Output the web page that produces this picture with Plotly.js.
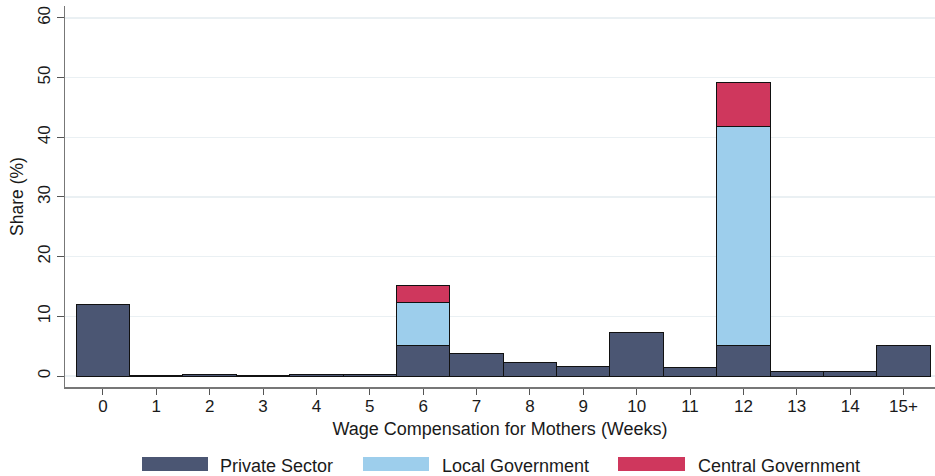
<!DOCTYPE html>
<html>
<head>
<meta charset="utf-8">
<script src="https://cdn.plot.ly/plotly-3.0.1.min.js"></script>
<style>html,body{margin:0;padding:0;background:#fff;}#chart{width:935px;height:476px;}</style>
</head>
<body>
<div id="chart"></div>
<script>
// Data
const categories = ["0","1","2","3","4","5","6","7","8","9","10","11","12","13","14","15+"];
const privateSector = [12.0, 0.15, 0.27, 0.1, 0.27, 0.3, 5.1, 3.7, 2.2, 1.6, 7.3, 1.35, 5.1, 0.7, 0.7, 5.1];
const localGovernment = [null, null, null, null, null, null, 7.2, null, null, null, null, null, 36.7, null, null, null];
const centralGovernment = [null, null, null, null, null, null, 2.8, null, null, null, null, null, 7.4, null, null, null];
const seriesNames = ["Private Sector", "Local Government", "Central Government"];
const seriesColors = ["#4b5673", "#9dceec", "#cf375d"];
const yTicks = [0, 10, 20, 30, 40, 50, 60];

const L = 65, R = 935, T = 6, B = 387;
const W = R - L, H = B - T;
const px = v => (v - L) / W;
const py = v => (B - v) / H;

const seriesData = [privateSector, localGovernment, centralGovernment];
const traces = seriesData.map((vals, i) => ({
  type: 'bar',
  x: categories,
  y: vals,
  name: seriesNames[i],
  marker: {color: seriesColors[i], line: {color: '#111', width: 1}},
  showlegend: false,
  hovertemplate: '%{x}: %{y}<extra>' + seriesNames[i] + '</extra>'
}));

// legend drawn as wide swatches
const legendItems = [
  {box: [142, 208], text: 218},
  {box: [363, 429], text: 440},
  {box: [618, 685], text: 696}
];
const shapes = [], annotations = [];
legendItems.forEach((it, i) => {
  shapes.push({type: 'rect', xref: 'paper', yref: 'paper',
    x0: px(it.box[0]), x1: px(it.box[1]), y0: py(471), y1: py(457),
    fillcolor: seriesColors[i], line: {width: 0}});
  annotations.push({xref: 'paper', yref: 'paper', x: px(it.text), y: py(466),
    xanchor: 'left', yanchor: 'middle', showarrow: false, text: seriesNames[i],
    font: {size: 18, color: '#1a1a1a'}});
});

const layout = {
  width: 935, height: 476,
  margin: {l: L, r: 935 - R, t: T, b: 476 - B, pad: 0},
  paper_bgcolor: '#fff', plot_bgcolor: '#fff',
  font: {family: 'Liberation Sans, Arial, sans-serif', color: '#1a1a1a', size: 17},
  barmode: 'stack', bargap: 0,
  showlegend: false,
  xaxis: {
    type: 'category',
    range: [-0.71, 15.59],
    showline: true, linecolor: '#777', linewidth: 1.5,
    ticks: 'outside', ticklen: 6, tickcolor: '#555', tickwidth: 1,
    ticklabelstandoff: -3,
    showgrid: false, zeroline: false,
    tickfont: {size: 17},
    title: {text: 'Wage Compensation for Mothers (Weeks)', font: {size: 18}, standoff: 7},
    automargin: false, fixedrange: true
  },
  yaxis: {
    range: [-1.84, 62],
    tickvals: yTicks,
    tickangle: -90,
    showline: true, linecolor: '#777', linewidth: 1.5,
    ticks: 'outside', ticklen: 7, tickcolor: '#555', tickwidth: 1,
    showgrid: true, gridcolor: '#eaf0f3', gridwidth: 1.2,
    zeroline: false,
    tickfont: {size: 17},
    title: {text: 'Share (%)', font: {size: 17.5}, standoff: 6},
    automargin: false, fixedrange: true
  },
  shapes: shapes,
  annotations: annotations
};

Plotly.newPlot('chart', traces, layout, {displayModeBar: false, staticPlot: true});
</script>
</body>
</html>
